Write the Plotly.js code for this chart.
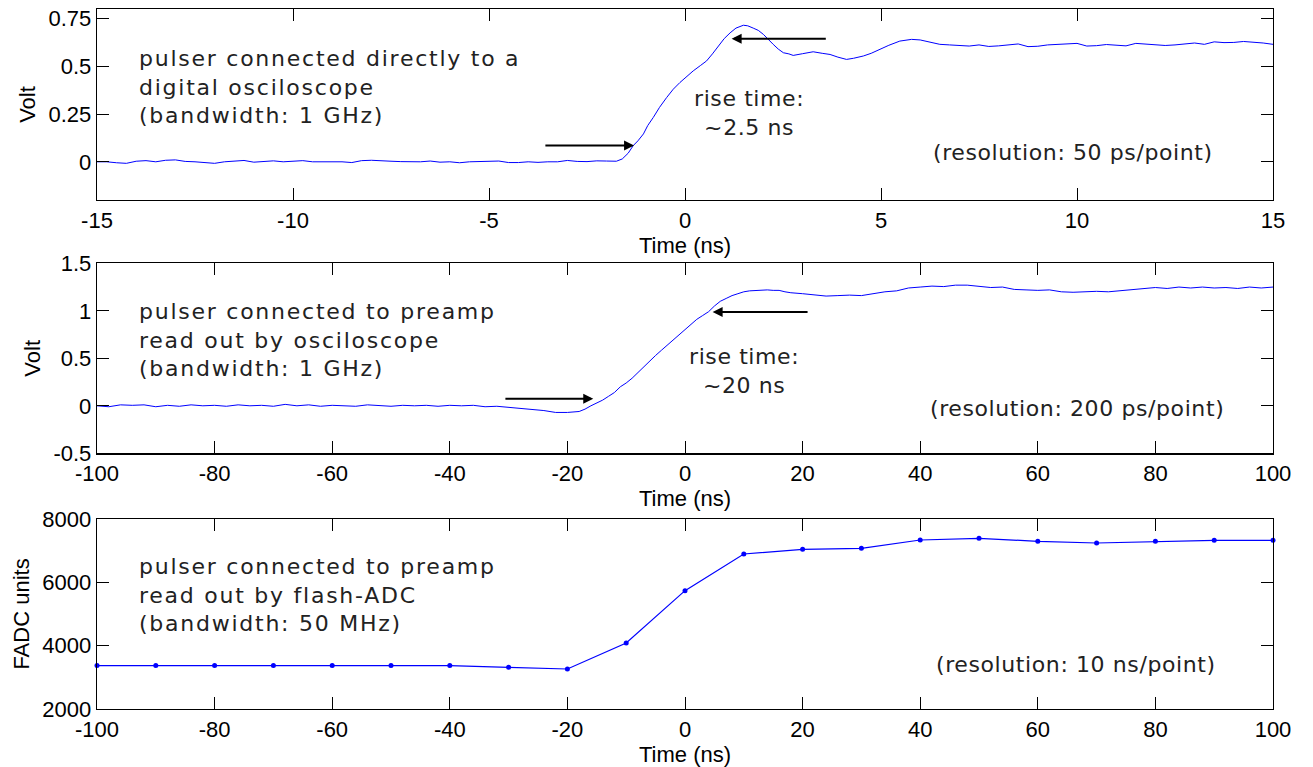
<!DOCTYPE html>
<html>
<head>
<meta charset="utf-8">
<script src="https://cdn.plot.ly/plotly-3.0.1.min.js"></script>
<style>html,body{margin:0;padding:0;background:#fff;}#chart{width:1313px;height:767px;}</style>
</head>
<body>
<div id="chart"></div>
<script>
// Panel 1: pulser -> digital oscilloscope (time in ns, volts)
const scopeTime = [
 -15,-14.75,-14.5,-14.25,-14,-13.75,-13.5,-13.25,-13,-12.75,-12.5,-12.25,-12,-11.75,-11.5,-11.25,-11,-10.75,-10.5,-10.25,
 -10,-9.75,-9.5,-9.25,-9,-8.75,-8.5,-8.25,-8,-7.75,-7.5,-7.25,-7,-6.75,-6.5,-6.25,-6,-5.75,-5.5,-5.25,
 -5,-4.75,-4.5,-4.25,-4,-3.75,-3.5,-3.25,-3,-2.75,-2.5,-2.25,-2,-1.75,
 -1.6,-1.45,-1.32,-1.2,-1.06,-0.95,-0.81,-0.65,-0.47,-0.3,-0.13,0.05,0.21,0.4,0.55,0.7,0.89,1.0,1.15,1.3,1.49,1.6,1.74,1.87,
 2.0,2.12,2.25,2.38,2.51,2.65,2.76,3.0,3.27,3.5,3.7,3.9,4.12,4.3,4.55,4.75,4.97,5.2,5.48,5.78,6.0,6.25,
 6.5,6.75,7,7.25,7.5,7.75,8,8.25,8.5,8.75,9,9.25,9.5,9.75,10,10.25,10.5,10.75,11,11.25,11.5,11.75,12,12.25,12.5,12.75,13,13.25,13.5,13.75,14,14.25,14.5,14.75,15
];
const scopeVolt = [
 0,0,-0.005,-0.008,0.003,0.006,0,0.008,0.01,0.002,0,-0.003,-0.008,0,0.004,0.007,-0.002,0,0.005,0,
 0.004,0.006,0,0,0,0,-0.004,0.006,0.008,0.004,0.003,0.001,0,0,0.004,-0.002,0,-0.005,0,0.002,
 0.005,0.004,-0.004,-0.004,0,-0.003,0,0,0.007,0.002,0.001,0.005,0.004,0.003,
 0.015,0.045,0.085,0.11,0.146,0.19,0.232,0.285,0.336,0.38,0.415,0.448,0.476,0.505,0.528,0.565,0.615,0.645,0.675,0.70,0.715,0.712,0.70,0.688,
 0.667,0.64,0.615,0.59,0.571,0.565,0.557,0.566,0.576,0.568,0.562,0.548,0.536,0.542,0.554,0.568,0.589,0.61,0.632,0.641,0.638,0.625,
 0.615,0.612,0.61,0.606,0.612,0.604,0.607,0.614,0.617,0.603,0.605,0.612,0.615,0.62,0.62,0.606,0.608,0.614,0.61,0.607,0.62,0.616,0.615,0.609,0.612,0.618,0.622,0.615,0.628,0.624,0.625,0.63,0.627,0.622,0.615
];

// Panel 2: pulser -> preamp -> oscilloscope
const preampTime = [
 -100,-98,-96,-94,-92,-90,-88,-86,-84,-82,-80,-78,-76,-74,-72,-70,-68,-66,-64,-62,-60,-58,-56,-54,-52,-50,-48,-46,-44,-42,
 -40,-38,-36,-34,-32,-30,-28,-26,-24,-22,-20,-18,-17,-16,-15,-14,-13,-12,-11,-10,-9,-8,-7,-6,-5,-4,-3,-2,-1,
 0,1,2,3,4,5,6,7,8,9,10,11,12,13,14,15,16,17,18,20,22,24,26,28,30,32,34,36,38,
 40,42,44,46,48,50,52,54,56,58,60,62,64,66,68,70,72,74,76,78,80,82,84,86,88,90,92,94,96,98,100
];
const preampVolt = [
 0,-0.01,0.01,0.005,0.01,-0.01,0.005,-0.005,0.01,0,0.005,-0.005,0.01,0,0.005,-0.005,0.015,0,0.01,-0.005,0.005,0,-0.005,0.01,0,-0.005,0.005,0,0.005,-0.005,
 0.005,0,0.005,-0.01,-0.005,-0.015,-0.03,-0.04,-0.05,-0.07,-0.07,-0.06,-0.035,0.0,0.03,0.06,0.1,0.14,0.2,0.24,0.29,0.35,0.42,0.478,0.53,0.585,0.64,0.69,0.75,
 0.8,0.85,0.91,0.95,0.99,1.05,1.1,1.13,1.16,1.18,1.2,1.21,1.215,1.22,1.22,1.215,1.215,1.2,1.19,1.18,1.17,1.155,1.16,1.165,1.16,1.18,1.2,1.21,1.24,
 1.25,1.26,1.255,1.27,1.27,1.26,1.245,1.25,1.225,1.22,1.215,1.22,1.2,1.195,1.2,1.205,1.2,1.21,1.22,1.235,1.245,1.235,1.25,1.24,1.25,1.24,1.245,1.235,1.25,1.24,1.25
];

// Panel 3: pulser -> preamp -> flash-ADC (10 ns/point)
const fadcTime  = [-100,-90,-80,-70,-60,-50,-40,-30,-20,-10,0,10,20,30,40,50,60,70,80,90,100];
const fadcUnits = [3370,3370,3370,3370,3370,3370,3370,3317,3263,4084,5737,6895,7043,7074,7337,7390,7295,7242,7295,7326,7326];

// Tick labels (hyphen-minus as in the original)
const scopeXTicks = [-15, -10, -5, 0, 5, 10, 15];
const scopeXLabels = ['-15', '-10', '-5', '0', '5', '10', '15'];
const wideXTicks = [-100, -80, -60, -40, -20, 0, 20, 40, 60, 80, 100];
const wideXLabels = ['-100', '-80', '-60', '-40', '-20', '0', '20', '40', '60', '80', '100'];
const scopeYTicks = [0, 0.25, 0.5, 0.75];
const scopeYLabels = ['0', '0.25', '0.5', '0.75'];
const preampYTicks = [-0.5, 0, 0.5, 1, 1.5];
const preampYLabels = ['-0.5', '0', '0.5', '1', '1.5'];
const fadcYTicks = [2000, 4000, 6000, 8000];
const fadcYLabels = ['2000', '4000', '6000', '8000'];

const xTitle = 'Time (ns)';
const yTitles = ['Volt', 'Volt', 'FADC units'];
const panelTexts = [
  ['pulser connected directly to a', 'digital osciloscope', '(bandwidth: 1 GHz)'],
  ['pulser connected to preamp', 'read out by osciloscope', '(bandwidth: 1 GHz)'],
  ['pulser connected to preamp', 'read out by flash-ADC', '(bandwidth: 50 MHz)']
];
const riseTexts = [['rise time:', '~2.5 ns'], ['rise time:', '~20 ns']];
const resTexts = ['(resolution: 50 ps/point)', '(resolution: 200 ps/point)', '(resolution: 10 ns/point)'];

const BLUE = '#0000ff';
const tickFont = {family: 'Liberation Sans, Arial, sans-serif', size: 22, color: '#000'};
const annFont = {family: 'DejaVu Sans, sans-serif', size: 22, color: '#222'};
const sp = (s, ls) => '<span style="letter-spacing:' + ls + 'px">' + s + '</span>';
const lines = (arr, ls) => arr.map(s => sp(s, ls)).join('<br>');

const traces = [
  {x: scopeTime, y: scopeVolt, type: 'scatter', mode: 'lines', line: {color: BLUE, width: 1}, xaxis: 'x', yaxis: 'y', hoverinfo: 'skip'},
  {x: preampTime, y: preampVolt, type: 'scatter', mode: 'lines', line: {color: BLUE, width: 1}, xaxis: 'x2', yaxis: 'y2', hoverinfo: 'skip'},
  {x: fadcTime, y: fadcUnits, type: 'scatter', mode: 'lines+markers', line: {color: BLUE, width: 1.2}, marker: {color: BLUE, size: 5}, xaxis: 'x3', yaxis: 'y3', cliponaxis: false, hoverinfo: 'skip'}
];

function xax(range, vals, labels, anchor) {
  return {range: range, tickmode: 'array', tickvals: vals, ticktext: labels, anchor: anchor, domain: [0, 1],
    showgrid: false, zeroline: false, showline: true, linecolor: '#000', linewidth: 1.3, mirror: 'allticks',
    ticks: 'inside', ticklen: 12, tickwidth: 1, tickcolor: '#000', tickfont: tickFont,
    title: {text: xTitle, font: tickFont, standoff: 0}, automargin: false};
}
function yax(range, vals, labels, domain, anchor, title) {
  return {range: range, tickmode: 'array', tickvals: vals, ticktext: labels, anchor: anchor, domain: domain,
    showgrid: false, zeroline: false, showline: true, linecolor: '#000', linewidth: 1.3, mirror: 'allticks',
    ticks: 'inside', ticklen: 12, tickwidth: 1, tickcolor: '#000', tickfont: tickFont, ticklabelstandoff: 0,
    title: {text: title, font: tickFont, standoff: 6}, automargin: false};
}

const H = 700, B = 709, L = 97, W = 1176;
const px = v => (v - L) / W;
const py = v => (B - v) / H;

const annotations = [];
[86.7, 340, 595].forEach((yy, i) => {
  annotations.push({xref: 'paper', yref: 'paper', x: px(137), y: py(yy), xanchor: 'left', yanchor: 'middle',
    align: 'left', showarrow: false, text: lines(panelTexts[i], 1.75), font: annFont});
});
[[749, 113.3], [744, 371]].forEach((p, i) => {
  annotations.push({xref: 'paper', yref: 'paper', x: px(p[0]), y: py(p[1]), xanchor: 'center', yanchor: 'middle',
    align: 'center', showarrow: false, text: lines(riseTexts[i], 0.6), font: annFont});
});
[[1073.3, 152.5], [1077, 408.8], [1076.3, 664]].forEach((p, i) => {
  annotations.push({xref: 'paper', yref: 'paper', x: px(p[0]), y: py(p[1]), xanchor: 'center', yanchor: 'middle',
    showarrow: false, text: sp(resTexts[i], 0.6), font: annFont});
});
// arrows (tip, tail in data units)
const arrowDefs = [
  ['x', 'y', -1.30, 0.085, -3.60, 0.085],
  ['x', 'y', 1.19, 0.644, 3.63, 0.644],
  ['x2', 'y2', -15.6, 0.074, -30.8, 0.074],
  ['x2', 'y2', 4.7, 0.988, 21.1, 0.988]
];
arrowDefs.forEach(a => {
  annotations.push({xref: a[0], yref: a[1], axref: a[0], ayref: a[1], x: a[2], y: a[3], ax: a[4], ay: a[5],
    showarrow: true, arrowhead: 2, arrowsize: 1, arrowwidth: 2, arrowcolor: '#000', text: '', standoff: 0});
});

const layout = {
  width: 1313, height: 767, paper_bgcolor: '#fff', plot_bgcolor: '#fff', showlegend: false,
  margin: {l: 97, r: 40, t: 9, b: 58},
  xaxis: xax([-15, 15], scopeXTicks, scopeXLabels, 'y'),
  yaxis: yax([-0.2, 0.8], scopeYTicks, scopeYLabels, [py(200), 1], 'x', yTitles[0]),
  xaxis2: xax([-100, 100], wideXTicks, wideXLabels, 'y2'),
  yaxis2: yax([-0.5, 1.5], preampYTicks, preampYLabels, [py(453.3), py(263.3)], 'x2', yTitles[1]),
  xaxis3: xax([-100, 100], wideXTicks, wideXLabels, 'y3'),
  yaxis3: yax([2000, 8000], fadcYTicks, fadcYLabels, [0, py(519)], 'x3', yTitles[2]),
  annotations: annotations
};

Plotly.newPlot('chart', traces, layout, {displayModeBar: false, staticPlot: true});
</script>
</body>
</html>
